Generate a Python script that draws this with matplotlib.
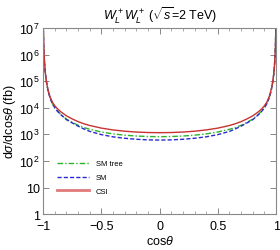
import numpy as np
import matplotlib
matplotlib.use("Agg")
import matplotlib.pyplot as plt
from matplotlib.lines import Line2D
from matplotlib.ticker import FixedLocator, LogLocator, NullFormatter, MultipleLocator

plt.rcParams['font.family'] = ['Liberation Sans', 'DejaVu Sans']
plt.rcParams['mathtext.fontset'] = 'custom'
plt.rcParams['mathtext.rm'] = 'Liberation Sans'
plt.rcParams['mathtext.it'] = 'Liberation Sans:italic'

# values for cos(theta) >= 0 (curves are symmetric)
cos_half = [0.0, 0.1, 0.2, 0.3, 0.4, 0.5, 0.6, 0.65, 0.7, 0.75, 0.8, 0.85, 0.88,
            0.9, 0.92, 0.94, 0.95, 0.96, 0.97, 0.975, 0.98, 0.985, 0.99, 0.993,
            0.995, 0.997, 0.999]
csi_half = [1160, 1176, 1226, 1318, 1472, 1724, 2165, 2515, 3028, 3827, 5000, 7200, 9500,
            12000, 16200, 25700, 35500, 52500, 89000, 126000, 190000, 330000, 710000,
            1320000, 2500000, 6300000, 40000000]
smtree_half = [820, 832, 868, 935, 1045, 1230, 1560, 1800, 2200, 2850, 3750, 5750, 7900,
               10300, 14500, 23600, 33000, 50400, 87000, 124000, 188000, 328000, 710000,
               1320000, 2500000, 6300000, 40000000]
sm_half = [610, 622, 655, 715, 810, 980, 1300, 1600, 2050, 2700, 3600, 5600, 7700,
           10100, 14200, 23100, 32700, 49900, 86300, 124000, 187000, 327000, 710000,
           1320000, 2500000, 6300000, 40000000]

def mirror(h):
    return h[::-1][:-1] + h

cos_t = [-c for c in cos_half[::-1]][:-1] + cos_half
csi = mirror(csi_half)
smtree = mirror(smtree_half)
sm = mirror(sm_half)

fig = plt.figure(figsize=(2.8, 2.51), dpi=100)
ax = fig.add_axes([0.154, 0.143, 0.832, 0.741])

ax.plot(cos_t, smtree, color='#2bb52b', ls=(0, (4, 1.5, 1, 1.5)), lw=1.0)
ax.plot(cos_t, sm, color='#2a2ad0', ls=(0, (3, 1.5)), lw=1.0)
ax.plot(cos_t, csi, color='#c83232', lw=1.0)

ax.set_yscale('log')
ax.set_xlim(-1, 1)
ax.set_ylim(1, 1e7)

ax.xaxis.set_major_locator(FixedLocator([-1, -0.5, 0, 0.5, 1]))
ax.xaxis.set_minor_locator(MultipleLocator(0.1))
ax.set_xticklabels(['\u22121', '\u22120.5', '0', '0.5', '1'])
ax.yaxis.set_major_locator(FixedLocator([1, 10, 1e2, 1e3, 1e4, 1e5, 1e6, 1e7]))
ax.set_yticklabels(['1', '10', r'$10^2$', r'$10^3$', r'$10^4$', r'$10^5$', r'$10^6$', r'$10^7$'])
ax.yaxis.set_minor_locator(LogLocator(base=10, subs=np.arange(2, 10)))
ax.yaxis.set_minor_formatter(NullFormatter())

ax.tick_params(which='both', direction='in', top=True, right=True, labelsize=9,
               color='#888888')
ax.tick_params(axis='x', pad=4.5)
ax.tick_params(axis='y', pad=2.5)
ax.tick_params(which='major', length=4, width=0.7)
ax.tick_params(which='minor', length=2, width=0.5)
for s in ax.spines.values():
    s.set_color('#888888')
    s.set_linewidth(0.8)

ax.set_xlabel(r'cos$\theta$', fontsize=9, labelpad=1)
ax.set_ylabel(r'd$\sigma$/dcos$\theta$ (fb)', fontsize=9, labelpad=1)
ax.set_title(r'$W_L^+W_L^+$ ($\sqrt{s}$=2 TeV)', fontsize=9, pad=6)

handles = [Line2D([], [], color='#2bb52b', ls=(0, (4, 1.5, 1, 1.5)), lw=1.0),
           Line2D([], [], color='#2a2ad0', ls=(0, (3, 1.5)), lw=1.0),
           Line2D([], [], color='#e07a7a', lw=2.0)]
labels = ['SM tree', 'SM', 'CSI']
ax.legend(handles, labels, loc='lower left', bbox_to_anchor=(0.03, 0.065), frameon=False,
          fontsize=5.5, handlelength=4.2, labelspacing=0.85, handletextpad=0.9)

fig.savefig('out.png', dpi=100)
